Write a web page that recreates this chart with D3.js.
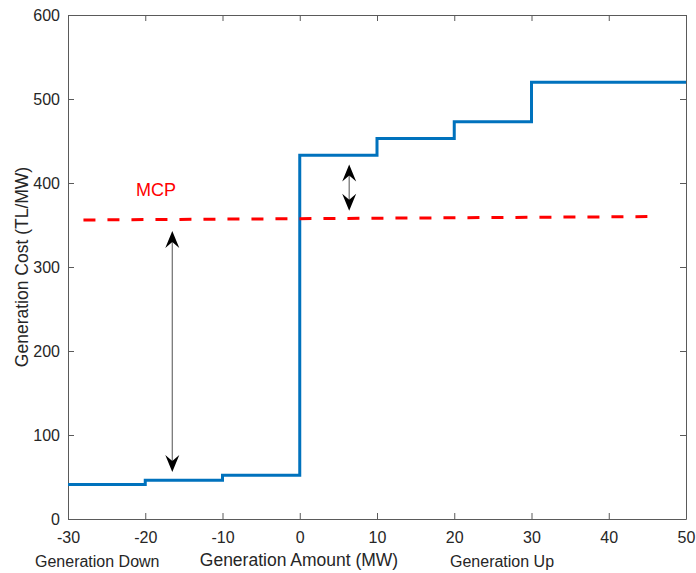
<!DOCTYPE html>
<html>
<head>
<meta charset="utf-8">
<script src="https://cdn.jsdelivr.net/npm/d3@7"></script>
<style>
  body { margin: 0; background: #fff; }
  text { font-family: "Liberation Sans", Arial, Helvetica, sans-serif; fill: #262626; }
</style>
</head>
<body>
<div id="chart"></div>
<script>
// offer curve steps (MW, TL/MW)
const stepX = [-30, -20, -10, 0, 10, 20, 30, 50];
const stepY = [41, 46, 52, 433, 453, 473, 520, 520];

// market clearing price line
const mcpX = [-28, 45];
const mcpY = [356, 360];

// double arrows [x, yBottom, yTop]
const arrows = [
  [-16.5, 56, 343],
  [6.4, 367, 422]
];

const xTicks = [-30, -20, -10, 0, 10, 20, 30, 40, 50];
const yTicks = [0, 100, 200, 300, 400, 500, 600];

const margin = {top: 15, right: 10, bottom: 54, left: 68},
      width = 696 - margin.left - margin.right,
      height = 573 - margin.top - margin.bottom;

const svg = d3.select("#chart")
    .append("svg")
    .attr("width", 696)
    .attr("height", 573);

const g = svg.append("g")
    .attr("transform", `translate(${margin.left},${margin.top})`);

const x = d3.scaleLinear().domain([-30, 50]).range([0, width]);
const y = d3.scaleLinear().domain([0, 600]).range([height, 0]);

// 座標軸 (MATLAB style, ticks inward, box on)
const axisColor = "#5a5a5a";
const fmt = d => String(d); // plain hyphen minus like the original
function styleAxis(sel) {
  sel.select(".domain").attr("stroke", axisColor);
  sel.selectAll(".tick line").attr("stroke", axisColor);
  sel.selectAll(".tick text").attr("font-size", 16).attr("fill", "#262626");
}

g.append("g")
    .attr("transform", `translate(0,${height})`)
    .call(d3.axisBottom(x).tickValues(xTicks).tickFormat(fmt).tickSizeInner(-6).tickSizeOuter(0).tickPadding(13))
    .call(styleAxis);

g.append("g")
    .call(d3.axisLeft(y).tickValues(yTicks).tickFormat(fmt).tickSizeInner(-6).tickSizeOuter(0).tickPadding(8))
    .call(styleAxis);

g.append("g")
    .call(d3.axisTop(x).tickValues(xTicks).tickSizeInner(-6).tickSizeOuter(0).tickFormat(""))
    .call(styleAxis);

g.append("g")
    .attr("transform", `translate(${width},0)`)
    .call(d3.axisRight(y).tickValues(yTicks).tickSizeInner(-6).tickSizeOuter(0).tickFormat(""))
    .call(styleAxis);

// step curve
const stepLine = d3.line()
    .x((d, i) => x(stepX[i]))
    .y(d => y(d))
    .curve(d3.curveStepAfter);

g.append("path")
    .datum(stepY)
    .attr("d", stepLine)
    .attr("fill", "none")
    .attr("stroke", "#0072BD")
    .attr("stroke-width", 3);

// MCP dashed line
g.append("line")
    .attr("x1", x(mcpX[0])).attr("y1", y(mcpY[0]))
    .attr("x2", x(mcpX[1])).attr("y2", y(mcpY[1]))
    .attr("stroke", "#FF0000")
    .attr("stroke-width", 3)
    .attr("stroke-dasharray", "12,12");

g.append("text")
    .attr("x", x(-21.2))
    .attr("y", y(384.5))
    .attr("font-size", 18)
    .style("fill", "#FF0000")
    .text("MCP");

// arrows
const head = "M0,0 L7,17 L0,11 L-7,17 Z";
arrows.forEach(([ax, y0, y1]) => {
  const px = x(ax), pb = y(y0), pt = y(y1);
  g.append("line")
      .attr("x1", px).attr("x2", px)
      .attr("y1", pt + 8).attr("y2", pb - 8)
      .attr("stroke", "#6e6e6e")
      .attr("stroke-width", 1.2);
  g.append("path")
      .attr("d", head)
      .attr("transform", `translate(${px},${pt})`)
      .attr("fill", "#000");
  g.append("path")
      .attr("d", head)
      .attr("transform", `translate(${px},${pb}) rotate(180)`)
      .attr("fill", "#000");
});

// axis labels
svg.append("text")
    .attr("transform", `translate(28,${margin.top + height / 2}) rotate(-90)`)
    .attr("text-anchor", "middle")
    .attr("font-size", 17.5)
    .text("Generation Cost (TL/MW)");

svg.append("text")
    .attr("x", 299)
    .attr("y", 566)
    .attr("text-anchor", "middle")
    .attr("font-size", 17.5)
    .text("Generation Amount (MW)");

svg.append("text")
    .attr("x", 35)
    .attr("y", 567)
    .attr("font-size", 16)
    .text("Generation Down");

svg.append("text")
    .attr("x", 450)
    .attr("y", 567)
    .attr("font-size", 16)
    .text("Generation Up");
</script>
</body>
</html>
